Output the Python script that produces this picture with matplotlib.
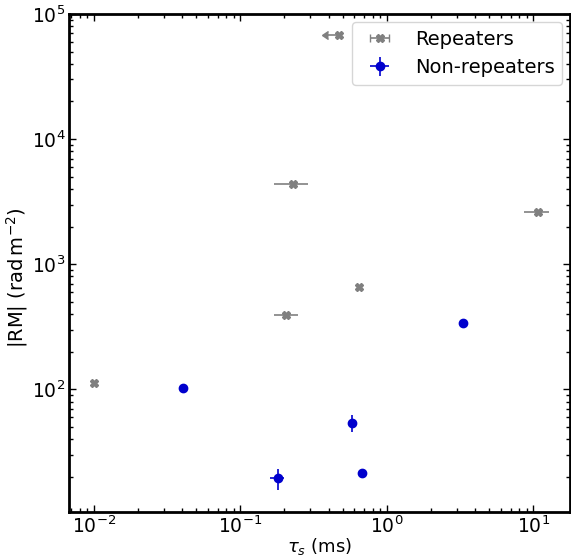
import numpy as np
import matplotlib.pyplot as plt

# repeaters: scattering time (ms), |RM|
rep_tau = [0.0100, 0.475, 0.229, 0.206, 0.644, 10.7]
rep_tau_lo = [0.0, 0.08, 0.060, 0.037, 0.0, 2.0]
rep_tau_hi = [0.0, 0.0, 0.061, 0.041, 0.0, 2.0]
rep_rm = [112, 68000, 4420, 396, 658, 2620]
rep_xup = [False, True, False, False, False, False]

# non-repeaters
non_tau = [0.0408, 0.1794, 0.580, 0.679, 3.30]
non_tau_lo = [0.0, 0.021, 0.0, 0.0, 0.0]
non_tau_hi = [0.0, 0.020, 0.0, 0.0, 0.0]
non_rm = [102, 19.7, 53.7, 21.6, 339]
non_rm_lo = [0.0, 3.9, 8.2, 1.4, 0.0]
non_rm_hi = [0.0, 3.5, 9.4, 1.4, 0.0]

fig = plt.figure(figsize=(5.71, 5.57), dpi=100)
ax = fig.add_axes([69/571, 1 - 512/557, (570 - 69)/571, (512 - 14)/557])

ax.errorbar(rep_tau, rep_rm, xerr=[rep_tau_lo, rep_tau_hi], xuplims=rep_xup,
            fmt='X', color='gray', ms=6, elinewidth=1.2, capsize=0,
            label='Repeaters')
ax.errorbar(non_tau, non_rm, xerr=[non_tau_lo, non_tau_hi],
            yerr=[non_rm_lo, non_rm_hi], fmt='o', color='mediumblue', ms=6,
            elinewidth=1.2, capsize=0, label='Non-repeaters')

ax.set_xscale('log')
ax.set_yscale('log')
ax.set_xlim(0.00676, 17.8)
ax.set_ylim(10.5, 1e5)

ax.set_xlabel(r'$\tau_s$ (ms)', fontsize=13, labelpad=-1)
ax.set_ylabel(r'|RM| ($\mathrm{rad\,m^{-2}}$)', fontsize=14)
ax.yaxis.set_label_coords(-0.078, 0.47)

ax.tick_params(which='both', direction='in', top=True, right=True, labelsize=13.5)
ax.tick_params(which='major', length=5, width=1, pad=2.5)
ax.tick_params(which='minor', length=3, width=1)
for s in ax.spines.values():
    s.set_linewidth(2)

ax.legend(loc='upper right', fontsize=14, borderaxespad=0.4)

fig.savefig('out.png', dpi=100)
